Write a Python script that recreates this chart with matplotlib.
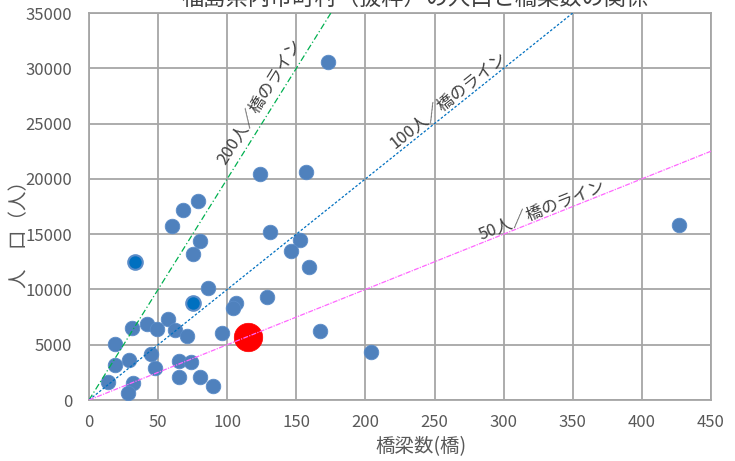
import numpy as np
import matplotlib
matplotlib.use("Agg")
import matplotlib.pyplot as plt

plt.rcParams['font.family'] = ['Noto Sans CJK JP', 'DejaVu Sans']

# ---- data ----
bridges = [173, 124, 157, 68, 79, 60, 80, 75, 131, 153, 146, 159, 427, 86, 106, 104,
           129, 96, 167, 204, 31, 42, 49, 57, 62, 71, 19, 19, 29, 45, 48, 65, 74, 65,
           80, 90, 14, 32, 28]
population = [30600, 20400, 20650, 17200, 18000, 15700, 14400, 13200, 15200, 14500,
              13450, 12000, 15800, 10100, 8800, 8300, 9300, 6050, 6200, 4300, 6500,
              6850, 6400, 7350, 6300, 5800, 5050, 3150, 3600, 4150, 2850, 3500, 3400,
              2100, 2050, 1250, 1600, 1500, 650]
hl_bridges = [33, 75]
hl_population = [12450, 8800]
target_bridges = [115]
target_population = [5700]

ratios = [200, 100, 50]
ratio_labels = ["200人／橋のライン", "100人／橋のライン", "50人／橋のライン"]
x_ticks = [0, 50, 100, 150, 200, 250, 300, 350, 400, 450]
y_ticks = [0, 5000, 10000, 15000, 20000, 25000, 30000, 35000]

title = "福島県内市町村（抜粋）の人口と橋梁数の関係"
xlabel = "橋梁数(橋)"
ylabel = "人　口（人）"

# ---- layout ----
W, H = 735, 461
fig = plt.figure(figsize=(W / 100, H / 100), dpi=100)
ax = fig.add_axes([89 / W, (H - 400) / H, (711 - 89) / W, (400 - 13) / H])

ax.set_xlim(0, 450)
ax.set_ylim(0, 35000)
ax.set_xticks(x_ticks)
ax.set_yticks(y_ticks)
ax.grid(True, color='#A6A6A6', linewidth=1.3)
ax.set_axisbelow(True)
for s in ax.spines.values():
    s.set_color('#A6A6A6')
    s.set_linewidth(1.3)
ax.tick_params(length=0, labelsize=12, labelcolor='#595959')
ax.tick_params(axis='y', pad=12)
ax.tick_params(axis='x', pad=10)

# scatter
ax.scatter(bridges, population, s=110, color='#4F81BD', edgecolors='#5B8CC8',
           linewidths=0.6, zorder=3)
ax.scatter(hl_bridges, hl_population, s=110, color='#0070C0', edgecolors='#5B8CC8',
           linewidths=1.5, zorder=3)
ax.scatter(target_bridges, target_population, s=420, color='#FF0000', edgecolors='#FF0000',
           linewidths=0.5, zorder=3)

# ratio lines
line_styles = [('#00B050', (0, (5, 2, 1, 2))), ('#0070C0', (0, (2, 1.5))),
               ('#FF66FF', (0, (4, 1, 1, 1)))]
xs = np.array([0, 450])
for r, (c, ls) in zip(ratios, line_styles):
    ax.plot(xs, r * xs, color=c, linestyle=ls, linewidth=0.9, zorder=4)

# line labels
label_pos = [(123, 27000), (260, 27100), (328, 17200)]
fig.canvas.draw()
for r, lab, (lx, ly) in zip(ratios, ratio_labels, label_pos):
    p0 = ax.transData.transform((0, 0))
    p1 = ax.transData.transform((100, 100 * r))
    ang = np.degrees(np.arctan2(p1[1] - p0[1], p1[0] - p0[0]))
    ax.text(lx, ly, lab, rotation=ang, rotation_mode='anchor', ha='center', va='center',
            fontsize=12, color='#404040', zorder=5)

# titles
fig.text(415 / W, 1 - (-2) / H, title, ha='center', va='center', fontsize=16,
         color='#404040')
fig.text(421 / W, 1 - 447 / H, xlabel, ha='center', va='center', fontsize=14,
         color='#595959')
fig.text(20 / W, 1 - 230 / H, ylabel, ha='center', va='center', rotation=90,
         fontsize=14, color='#595959')

fig.savefig("out.png", dpi=100)
